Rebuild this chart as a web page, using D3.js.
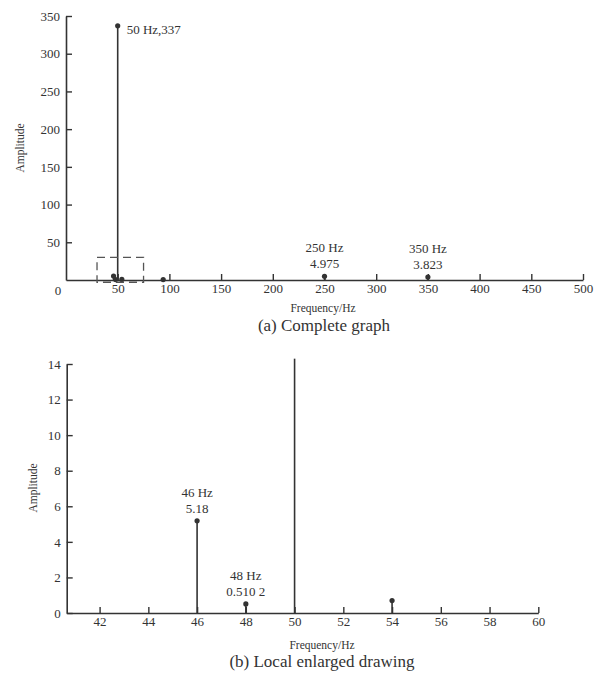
<!DOCTYPE html>
<html>
<head>
<meta charset="utf-8">
<script src="https://cdn.jsdelivr.net/npm/d3@7/dist/d3.min.js"></script>
<style>
  body { margin: 0; background: #fff; }
  svg text { font-family: "Liberation Serif", "Times New Roman", serif; fill: #333; }
</style>
</head>
<body>
<div id="chart"></div>
<script>
// spectrum peaks (Hz, amplitude)
const fullFreq = [46, 48, 50, 54, 94, 250, 350];
const fullAmp = [5.18, 0.5102, 337, 0.7, 0.5, 4.975, 3.823];
const zoomFreq = [46, 48, 50, 54];
const zoomAmp = [5.18, 0.5102, 337, 0.7];

const fullXTicks = [50, 100, 150, 200, 250, 300, 350, 400, 450, 500];
const fullYTicks = [50, 100, 150, 200, 250, 300, 350];
const zoomXTicks = [42, 44, 46, 48, 50, 52, 54, 56, 58, 60];
const zoomYTicks = [0, 2, 4, 6, 8, 10, 12, 14];

// annotated peaks: [freq, line1, line2]
const fullNotes = [[250, "250 Hz", "4.975"], [350, "350 Hz", "3.823"]];
const zoomNotes = [[46, "46 Hz", "5.18"], [48, "48 Hz", "0.510 2"]];
const zoomBox = { x: [30, 75], y: [-3, 30] };

const ink = "#333";
const svg = d3.select("#chart").append("svg")
  .attr("width", 600).attr("height", 673);

function styleAxis(g) {
  g.select(".domain").attr("stroke", ink).attr("stroke-width", 1.6);
  g.selectAll(".tick line").attr("stroke", ink).attr("stroke-width", 1.4);
  g.selectAll(".tick text").attr("fill", ink)
    .style("font-family", "'Liberation Serif', serif").style("font-size", "13px");
}

function stems(g, x, y, freq, amp, yMax) {
  const pts = freq.map((f, i) => ({ f: f, a: amp[i] }));
  g.selectAll(".stem").data(pts).enter().append("line")
    .attr("x1", d => x(d.f)).attr("x2", d => x(d.f))
    .attr("y1", y(0)).attr("y2", d => y(Math.min(d.a, yMax)))
    .attr("stroke", ink).attr("stroke-width", 1.6);
  g.selectAll(".dot").data(pts.filter(d => d.a <= yMax)).enter().append("circle")
    .attr("cx", d => x(d.f)).attr("cy", d => y(d.a)).attr("r", 2.6)
    .attr("fill", ink);
}

// ---- (a) complete graph
const x1 = d3.scaleLinear().domain([0, 500]).range([66, 583]);
const y1 = d3.scaleLinear().domain([0, 350]).range([280, 16]);

svg.append("g").attr("transform", "translate(0,280)")
  .call(d3.axisBottom(x1).tickValues(fullXTicks).tickSize(-6).tickSizeOuter(0).tickPadding(4))
  .call(styleAxis);
svg.append("g").attr("transform", "translate(66,0)")
  .call(d3.axisLeft(y1).tickValues(fullYTicks).tickSize(-6).tickSizeOuter(0).tickPadding(6))
  .call(styleAxis);
svg.append("text").attr("x", x1(0) - 8).attr("y", 295)
  .attr("text-anchor", "middle").style("font-size", "13px").text("0");

stems(svg, x1, y1, fullFreq, fullAmp, 350);

svg.append("text").attr("x", x1(50) + 9).attr("y", y1(337) + 8)
  .style("font-size", "13px").text("50 Hz,337");
fullNotes.forEach(n => {
  const a = fullAmp[fullFreq.indexOf(n[0])];
  svg.append("text").attr("x", x1(n[0])).attr("y", y1(a) - 24)
    .attr("text-anchor", "middle").style("font-size", "13px").text(n[1]);
  svg.append("text").attr("x", x1(n[0])).attr("y", y1(a) - 8)
    .attr("text-anchor", "middle").style("font-size", "13px").text(n[2]);
});

svg.append("rect")
  .attr("x", x1(zoomBox.x[0])).attr("y", y1(zoomBox.y[1]))
  .attr("width", x1(zoomBox.x[1]) - x1(zoomBox.x[0]))
  .attr("height", y1(zoomBox.y[0]) - y1(zoomBox.y[1]))
  .attr("fill", "none").attr("stroke", "#555").attr("stroke-width", 1.3)
  .attr("stroke-dasharray", "8,5");

svg.append("text").attr("transform", "translate(24,148) rotate(-90)")
  .attr("text-anchor", "middle").style("font-size", "11.5px").text("Amplitude");
svg.append("text").attr("x", 323).attr("y", 312)
  .attr("text-anchor", "middle").style("font-size", "11.5px").text("Frequency/Hz");
svg.append("text").attr("x", 324).attr("y", 331)
  .attr("text-anchor", "middle").style("font-size", "17px").text("(a) Complete graph");

// ---- (b) local enlarged drawing
const x2 = d3.scaleLinear().domain([40.65, 60]).range([66.7, 538.3]);
const y2 = d3.scaleLinear().domain([0, 14]).range([613, 364]);

svg.append("g").attr("transform", "translate(0,613)")
  .call(d3.axisBottom(x2).tickValues(zoomXTicks).tickSize(-6).tickSizeOuter(0).tickPadding(4))
  .call(styleAxis);
svg.append("g").attr("transform", "translate(66.7,0)")
  .call(d3.axisLeft(y2).tickValues(zoomYTicks).tickSize(-6).tickSizeOuter(0).tickPadding(6))
  .call(styleAxis);

// clip the 50 Hz peak slightly above the top tick
stems(svg, x2, y2, zoomFreq, zoomAmp, 14.3);

zoomNotes.forEach(n => {
  const a = zoomAmp[zoomFreq.indexOf(n[0])];
  svg.append("text").attr("x", x2(n[0])).attr("y", y2(a) - 24)
    .attr("text-anchor", "middle").style("font-size", "13px").text(n[1]);
  svg.append("text").attr("x", x2(n[0])).attr("y", y2(a) - 8)
    .attr("text-anchor", "middle").style("font-size", "13px").text(n[2]);
});

svg.append("text").attr("transform", "translate(37,488) rotate(-90)")
  .attr("text-anchor", "middle").style("font-size", "11.5px").text("Amplitude");
svg.append("text").attr("x", 322).attr("y", 649)
  .attr("text-anchor", "middle").style("font-size", "11.5px").text("Frequency/Hz");
svg.append("text").attr("x", 322).attr("y", 667)
  .attr("text-anchor", "middle").style("font-size", "17px").text("(b) Local enlarged drawing");
</script>
</body>
</html>
